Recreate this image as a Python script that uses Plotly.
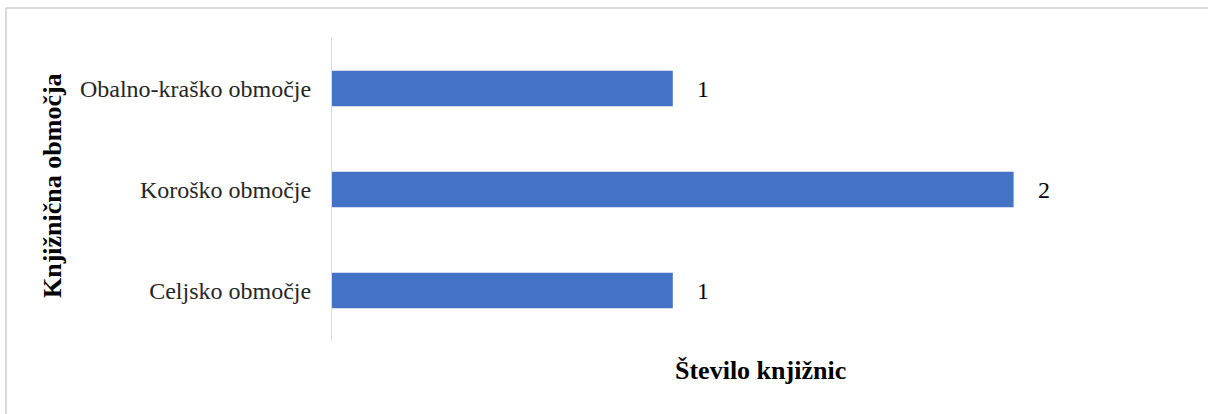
import plotly.graph_objects as go

categories = ["Celjsko območje", "Koroško območje", "Obalno-kraško območje"]
values = [1, 2, 1]
x_title = "Število knjižnic"
y_title = "Knjižnična območja"

W, H = 1208, 414
L, R, T, B = 332, 24, 38, 73
pw, ph = W - L - R, H - T - B
font = "Liberation Serif"

fig = go.Figure(go.Bar(
    x=values, y=categories, orientation="h",
    marker=dict(color="#4472c4", line=dict(width=0)),
    hoverinfo="skip",
))

for v, c in zip(values, categories):
    fig.add_annotation(x=v, y=c, xref="x", yref="y", text=str(v),
                       showarrow=False, xanchor="left", xshift=22,
                       font=dict(family=font, size=24, color="#000000"))

fig.add_annotation(x=(760 - L) / pw, y=-(370 - (T + ph)) / ph, xref="paper", yref="paper",
                   text="<b>" + x_title + "</b>", showarrow=False,
                   xanchor="center", yanchor="middle",
                   font=dict(family=font, size=26, color="#000000"))
fig.add_annotation(x=(52 - L) / pw, y=(T + ph - 186) / ph, xref="paper", yref="paper",
                   text="<b>" + y_title + "</b>", showarrow=False, textangle=-90,
                   xanchor="center", yanchor="middle",
                   font=dict(family=font, size=26, color="#000000"))

# outer frame (top and left visible)
fig.add_shape(type="line", xref="paper", yref="paper",
              x0=(6 - L) / pw, x1=(W - L) / pw, y0=(T + ph - 8) / ph, y1=(T + ph - 8) / ph,
              line=dict(color="#d9d9d9", width=2))
fig.add_shape(type="line", xref="paper", yref="paper",
              x0=(6 - L) / pw, x1=(6 - L) / pw, y0=(T + ph - 8) / ph, y1=(T + ph - H) / ph,
              line=dict(color="#d9d9d9", width=2))

fig.update_layout(
    width=W, height=H,
    margin=dict(l=L, r=R, t=T, b=B, pad=0),
    paper_bgcolor="white", plot_bgcolor="white",
    bargap=0.65, showlegend=False,
    font=dict(family=font, size=24, color="#000000"),
    xaxis=dict(range=[0, 2.5], showticklabels=False, showgrid=False, zeroline=False,
               showline=False, ticks=""),
    yaxis=dict(showline=True, linecolor="#d9d9d9", linewidth=1, ticks="",
               ticklabelstandoff=15, showgrid=False, zeroline=False,
               tickfont=dict(family=font, size=24, color="#262626")),
)

fig.write_html("out.html", config={"displayModeBar": False},
               post_script="document.body.style.margin='0';document.body.style.overflow='hidden';")
